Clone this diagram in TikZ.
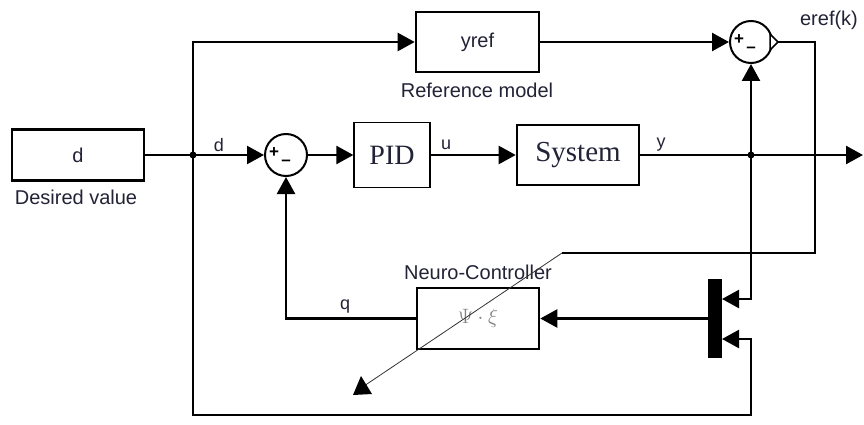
\documentclass[tikz,border=0pt]{standalone}
\usepackage{fontspec}
\setmainfont{Liberation Serif}
\setsansfont{Liberation Sans}
\usetikzlibrary{arrows.meta}
\definecolor{lblc}{RGB}{35,35,55}
\begin{document}
\begin{tikzpicture}[x=1pt,y=-1pt,
  sig/.style={line width=2.4pt,-{Triangle[length=17pt,width=18pt]}},
  wire/.style={line width=2.4pt},
  blk/.style={draw,line width=2.6pt,inner sep=0pt,text=lblc,font=\sffamily\fontsize{20}{24}\selectfont},
  sblk/.style={draw,inner sep=0pt,text=lblc,font=\rmfamily\fontsize{29}{32}\selectfont},
  lbl/.style={inner sep=0pt,text=lblc,font=\sffamily\fontsize{20}{24}\selectfont},
  slbl/.style={inner sep=0pt,text=lblc,font=\sffamily\fontsize{18}{22}\selectfont},
  sumc/.style={draw,circle,line width=2pt,minimum size=42pt,inner sep=0pt},
  sgn/.style={inner sep=0pt,font=\sffamily\fontsize{17}{18}\selectfont\bfseries}]
\useasboundingbox[fill=white] (0,0) rectangle (864,425);

% blocks
\node[blk,minimum width=132pt,minimum height=51pt] (dbox) at (78,155) {d};
\node[lbl] (dlbl) at (76,197) {Desired value};
\node[blk,minimum width=123pt,minimum height=60pt] (yref) at (477.5,42) {yref};
\node[lbl] (rlbl) at (477,90) {Reference model};
\node[sumc] (s1) at (286,155) {};
\node[sgn] (s1p) at (274,153) {+};
\node[sgn] (s1m) at (286,163) {–};
\node[sumc] (s2) at (751,42) {};
\node[sgn] (s2p) at (739,40) {+};
\node[sgn] (s2m) at (751,50) {–};
\node[sblk,line width=1.3pt,minimum width=76pt,minimum height=65pt,font=\rmfamily\fontsize{28}{32}\selectfont] (pid) at (392,155) {PID};
\node[sblk,line width=2.6pt,minimum width=122pt,minimum height=60pt] (sys) at (578,155) {System};
\node[draw,line width=2.6pt,minimum width=122pt,minimum height=61pt,inner sep=0pt,text=gray,font=\fontsize{22}{26}\selectfont] (nc) at (478,318.5) {$\Psi\cdot\xi$};
\node[lbl] (nlbl) at (478,272) {Neuro-Controller};
\node[fill=black,minimum width=14pt,minimum height=79pt,inner sep=0pt] (mux) at (715,318.5) {};
\node[lbl] (elbl) at (829,20) {eref(k)};
\node[slbl] (dl) at (219,145) {d};
\node[slbl] (ul) at (446,145) {u};
\node[slbl] (yl) at (661,145) {y};
\node[slbl] (ql) at (345,307) {q};

% coordinates
\coordinate (j1) at (193,155);
\coordinate (j2) at (751,155);
\coordinate (out) at (863,155);
\coordinate (m1) at (722,299);
\coordinate (m2) at (722,339);
\coordinate (b2) at (751,415);
\coordinate (e1) at (815,253);
\coordinate (e2) at (562,253);
\coordinate (tipc) at (364,386);

% connectors
\draw[wire] (dbox.east) -- (j1);
\draw[sig] (j1) -- (s1.west);
\draw[sig] (s1.east) -- (pid.west);
\draw[sig] (pid.east) -- (sys.west);
\draw[sig] (sys.east) -- (out);
\draw[sig] (j1) |- (yref.west);
\draw[sig] (yref.east) -- (s2.west);
\draw[sig] (j2) -- (s2.south);
\draw[sig] (j2) |- (m1);
\draw[sig] (j1) |- (b2) |- (m2);
\draw[sig] (mux.west) -- (nc.east);
\draw[sig] (nc.west) -| (s1.south);
\draw[wire] (s2.east) -| (e1) -- (e2);
\draw[line width=0.8pt,draw=black!80] (e2) -- (tipc);
\fill (353,395) -- (372,394) -- (361,376) -- cycle;
\draw[line width=1.5pt,fill=white] (770,34) -- (778,42) -- (770,50) -- cycle;

% junction dots
\fill (j1) circle (3.5pt);
\fill (j2) circle (3.5pt);
\end{tikzpicture}
\end{document}
